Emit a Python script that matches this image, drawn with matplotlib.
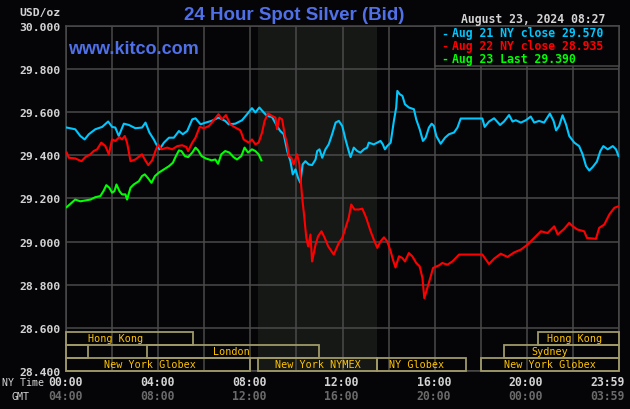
import matplotlib
matplotlib.use('Agg')
import matplotlib.pyplot as plt
from matplotlib.patches import Rectangle
import matplotlib.transforms as mtransforms

# ---------------- data ----------------
aug21_t = [0.03, 0.40, 0.62, 0.81, 0.99, 1.27, 1.57, 1.83, 2.00, 2.14, 2.29, 2.51, 2.73, 3.01, 3.30,
           3.45, 3.62, 3.81, 3.96, 4.06, 4.25, 4.47, 4.68, 4.90, 5.07, 5.26, 5.48, 5.62, 5.84, 6.06,
           6.32, 6.62, 6.91, 7.06, 7.35, 7.64, 7.86, 8.07, 8.22, 8.39, 8.58, 8.73, 8.94, 9.16, 9.30,
           9.45, 9.60, 9.74, 9.84, 9.96, 10.07, 10.17, 10.27, 10.39, 10.53, 10.68, 10.83, 10.90, 11.00,
           11.12, 11.26, 11.40, 11.55, 11.70, 11.84, 11.99, 12.13, 12.27, 12.35, 12.49, 12.64, 12.78,
           12.93, 13.07, 13.14, 13.36, 13.51, 13.65, 13.75, 13.84, 13.94, 14.09, 14.23, 14.33, 14.38,
           14.48, 14.60, 14.71, 14.88, 15.10, 15.20, 15.35, 15.49, 15.61, 15.75, 15.87, 15.97, 16.07,
           16.26, 16.45, 16.62, 16.84, 16.99, 17.13, 17.64, 18.07, 18.17, 18.36, 18.58, 18.84, 19.01,
           19.23, 19.38, 19.52, 19.74, 19.96, 20.17, 20.32, 20.53, 20.75, 21.00, 21.16, 21.27, 21.40,
           21.55, 21.70, 21.84, 22.06, 22.27, 22.42, 22.57, 22.71, 22.86, 23.04, 23.19, 23.32, 23.51,
           23.73, 23.87, 23.98]
aug21_v = [29.529, 29.521, 29.490, 29.474, 29.498, 29.521, 29.532, 29.557, 29.532, 29.529, 29.490,
           29.547, 29.541, 29.526, 29.529, 29.552, 29.506, 29.474, 29.443, 29.428, 29.459, 29.482,
           29.482, 29.513, 29.498, 29.513, 29.567, 29.572, 29.544, 29.552, 29.560, 29.575, 29.560,
           29.544, 29.547, 29.563, 29.591, 29.619, 29.599, 29.622, 29.599, 29.583, 29.578, 29.536,
           29.513, 29.498, 29.420, 29.373, 29.312, 29.335, 29.296, 29.273, 29.358, 29.373, 29.358,
           29.355, 29.381, 29.420, 29.428, 29.389, 29.428, 29.451, 29.498, 29.552, 29.560, 29.536,
           29.474, 29.420, 29.392, 29.436, 29.420, 29.413, 29.428, 29.436, 29.459, 29.451, 29.459,
           29.467, 29.451, 29.428, 29.443, 29.459, 29.560, 29.622, 29.699, 29.684, 29.676, 29.637,
           29.622, 29.614, 29.567, 29.521, 29.467, 29.482, 29.529, 29.547, 29.536, 29.490, 29.454,
           29.482, 29.498, 29.506, 29.529, 29.571, 29.571, 29.571, 29.532, 29.557, 29.572, 29.541,
           29.557, 29.587, 29.557, 29.563, 29.552, 29.563, 29.580, 29.552, 29.560, 29.552, 29.594,
           29.560, 29.516, 29.536, 29.586, 29.544, 29.490, 29.459, 29.443, 29.405, 29.350, 29.330,
           29.346, 29.371, 29.420, 29.443, 29.428, 29.443, 29.428, 29.397]

aug22_t = [0.03, 0.12, 0.40, 0.67, 0.84, 1.06, 1.20, 1.35, 1.53, 1.71, 1.86, 2.00, 2.14, 2.32, 2.43,
           2.55, 2.65, 2.80, 3.01, 3.30, 3.42, 3.57, 3.74, 3.88, 4.00, 4.14, 4.39, 4.61, 4.83, 5.04,
           5.22, 5.30, 5.48, 5.62, 5.80, 5.99, 6.20, 6.33, 6.62, 6.77, 6.94, 7.13, 7.35, 7.57, 7.71,
           7.93, 8.07, 8.22, 8.36, 8.51, 8.62, 8.77, 8.94, 9.09, 9.16, 9.26, 9.38, 9.49, 9.60, 9.67,
           9.78, 9.88, 10.03, 10.13, 10.25, 10.33, 10.43, 10.51, 10.61, 10.68, 10.83, 10.94, 11.09,
           11.23, 11.38, 11.62, 11.84, 11.99, 12.13, 12.27, 12.38, 12.52, 12.71, 12.86, 13.03, 13.22,
           13.36, 13.51, 13.65, 13.80, 13.94, 14.09, 14.19, 14.30, 14.45, 14.60, 14.71, 14.88, 15.03,
           15.20, 15.35, 15.47, 15.55, 15.68, 15.83, 15.93, 16.19, 16.33, 16.55, 16.77, 17.06, 18.07,
           18.36, 18.58, 18.87, 19.16, 19.45, 19.74, 20.03, 20.32, 20.61, 20.90, 21.19, 21.34, 21.62,
           21.84, 21.99, 22.20, 22.49, 22.61, 23.00, 23.14, 23.36, 23.58, 23.80, 23.98]
aug22_v = [29.413, 29.389, 29.386, 29.373, 29.392, 29.405, 29.420, 29.428, 29.459, 29.443, 29.405,
           29.474, 29.467, 29.485, 29.474, 29.490, 29.459, 29.373, 29.381, 29.405, 29.381, 29.355,
           29.377, 29.420, 29.451, 29.428, 29.436, 29.428, 29.443, 29.447, 29.439, 29.420, 29.459,
           29.482, 29.532, 29.526, 29.536, 29.552, 29.591, 29.567, 29.587, 29.544, 29.529, 29.516,
           29.474, 29.459, 29.474, 29.451, 29.459, 29.506, 29.560, 29.594, 29.583, 29.575, 29.521,
           29.575, 29.567, 29.498, 29.451, 29.397, 29.389, 29.358, 29.405, 29.358, 29.203, 29.126,
           29.017, 28.978, 29.033, 28.908, 28.986, 29.025, 29.048, 29.017, 28.978, 28.940, 28.994,
           29.017, 29.064, 29.110, 29.172, 29.149, 29.149, 29.153, 29.110, 29.048, 29.009, 28.971,
           29.001, 29.020, 29.001, 28.955, 28.916, 28.880, 28.932, 28.924, 28.908, 28.947, 28.932,
           28.901, 28.885, 28.831, 28.738, 28.785, 28.839, 28.878, 28.890, 28.901, 28.893, 28.908,
           28.940, 28.940, 28.896, 28.921, 28.944, 28.929, 28.950, 28.963, 28.986, 29.017, 29.048,
           29.040, 29.071, 29.033, 29.059, 29.087, 29.071, 29.056, 29.048, 29.017, 29.013, 29.064,
           29.079, 29.126, 29.157, 29.164]

aug23_t = [0.03, 0.19, 0.40, 0.62, 0.84, 1.06, 1.27, 1.49, 1.64, 1.75, 1.88, 2.00, 2.10, 2.19, 2.32,
           2.43, 2.58, 2.65, 2.80, 2.94, 3.16, 3.30, 3.42, 3.57, 3.71, 3.86, 4.03, 4.25, 4.47, 4.64,
           4.75, 4.90, 5.01, 5.16, 5.30, 5.48, 5.62, 5.74, 5.88, 6.06, 6.32, 6.48, 6.60, 6.74, 6.91,
           7.09, 7.27, 7.42, 7.61, 7.75, 7.90, 8.07, 8.22, 8.36, 8.48]
aug23_v = [29.160, 29.175, 29.195, 29.187, 29.191, 29.195, 29.206, 29.211, 29.237, 29.262, 29.250,
           29.227, 29.234, 29.265, 29.234, 29.219, 29.219, 29.195, 29.250, 29.265, 29.280, 29.304,
           29.312, 29.293, 29.273, 29.304, 29.320, 29.335, 29.350, 29.366, 29.392, 29.423, 29.420,
           29.397, 29.392, 29.413, 29.436, 29.423, 29.397, 29.386, 29.377, 29.381, 29.361, 29.405,
           29.420, 29.413, 29.392, 29.381, 29.397, 29.436, 29.413, 29.428, 29.420, 29.405, 29.377]

y_ticks = [28.4, 28.6, 28.8, 29.0, 29.2, 29.4, 29.6, 29.8, 30.0]
y_labels = ["28.400", "28.600", "28.800", "29.000", "29.200", "29.400", "29.600", "29.800", "30.000"]
x_ticks = [0, 4, 8, 12, 16, 20, 24]
ny_labels = ["00:00", "04:00", "08:00", "12:00", "16:00", "20:00", "23:59"]
gmt_labels = ["04:00", "08:00", "12:00", "16:00", "20:00", "00:00", "03:59"]

legend_texts = ["Aug 21 NY close 29.570", "Aug 22 NY close 28.935", "Aug 23 Last 29.390"]

# sessions: name, start hour, end hour, row (0 = top)
session_names = ["Hong Kong", "Sydney", "London", "New York Globex", "New York NYMEX",
                 "NY Globex", "New York Globex", "Sydney", "Hong Kong"]
session_start = [0.0, 0.0, 3.5, 0.0, 8.33, 13.5, 18.0, 19.0, 20.5]
session_end = [5.5, 0.96, 11.0, 8.0, 13.5, 17.37, 24.0, 24.0, 24.0]
session_row = [0, 1, 1, 2, 2, 2, 2, 1, 0]

# ---------------- style / layout ----------------
BG = '#050508'
SHADE = '#151815'
GRIDC = '#4a4a4a'
CYAN = '#00c8ff'
RED = '#ff0000'
GREEN = '#00ff00'
BLUE = '#5070e8'
LABEL = '#d4d4d4'
GMTC = '#6a6a6a'
SESS_EDGE = '#a09a68'
SESS_TEXT = '#ffc400'
MONO = 'DejaVu Sans Mono'

W, H = 630, 410
L, R, T, B = 66, 619, 27, 372

fig = plt.figure(figsize=(W / 100, H / 100), dpi=100, facecolor=BG)
ax = fig.add_axes([L / W, 1 - B / H, (R - L) / W, (B - T) / H])
ax.set_facecolor(BG)
ax.set_xlim(0, 24)
ax.set_ylim(28.4, 30.0)

# NYMEX shading
ax.axvspan(session_start[4], session_end[4], color=SHADE, zorder=0, lw=0)

ax.set_xticks(range(0, 25, 2))
ax.set_yticks(y_ticks)
ax.grid(True, color=GRIDC, lw=1.1, zorder=1)
ax.tick_params(axis='x', length=0, labelbottom=False)
ax.tick_params(axis='y', length=0, pad=4)
ax.set_yticklabels(y_labels, family=MONO, fontweight='bold', fontsize=8.2, color=LABEL)
for s in ax.spines.values():
    s.set_color(GRIDC)
    s.set_linewidth(1.1)

def px(x, y):
    return x / W, 1 - y / H

# series
ax.plot(aug21_t, aug21_v, color=CYAN, lw=1.5, zorder=3, solid_joinstyle='round')
ax.plot(aug22_t, aug22_v, color=RED, lw=1.5, zorder=3, solid_joinstyle='round')
ax.plot(aug23_t, aug23_v, color=GREEN, lw=1.5, zorder=3, solid_joinstyle='round')

# session boxes
blend = mtransforms.blended_transform_factory(ax.transData, ax.transAxes)
row_h = 13 / (B - T)
label_x = [2.13, None, 7.17, 3.65, 10.91, 15.22, 21.0, 21.0, 22.09]
for name, s0, s1, row, lx in zip(session_names, session_start, session_end, session_row, label_x):
    y0 = (2 - row) * row_h
    ax.add_patch(Rectangle((s0, y0), s1 - s0, row_h, transform=blend, facecolor='none',
                           edgecolor=SESS_EDGE, lw=1.3, zorder=4, clip_on=False))
    if lx is not None:
        ax.text(lx, y0 + row_h / 2, name, transform=blend, ha='center', va='center',
                family=MONO, fontsize=7.3, color=SESS_TEXT, zorder=5)

# legend box
ax.add_patch(Rectangle((16, (B - 66.7) / (B - T)), 8, (66.7 - T) / (B - T), transform=blend,
                       facecolor=BG, edgecolor=GRIDC, lw=1.1, zorder=6, clip_on=False))
leg_colors = [CYAN, RED, GREEN]
leg_y = [34, 46.5, 59]
for txt, c, yy in zip(legend_texts, leg_colors, leg_y):
    fig.text(*px(441, yy), "-", family=MONO, fontweight='bold', fontsize=8.3, color=c,
             ha='left', va='center', zorder=7)
    fig.text(*px(451.5, yy), txt, family=MONO, fontweight='bold', fontsize=8.3, color=c,
             ha='left', va='center', zorder=7)

# x labels
for t, nl, gl in zip(x_ticks, ny_labels, gmt_labels):
    if t == 24:
        ax.text(24.25, -(382.7 - B) / (B - T), nl, transform=blend, ha='right', va='center',
                family=MONO, fontweight='bold', fontsize=8.3, color=LABEL, clip_on=False)
        ax.text(24.25, -(396.7 - B) / (B - T), gl, transform=blend, ha='right', va='center',
                family=MONO, fontweight='bold', fontsize=8.3, color=GMTC, clip_on=False)
    else:
        ax.text(t - 0.04, -(382.7 - B) / (B - T), nl, transform=blend, ha='center', va='center',
                family=MONO, fontweight='bold', fontsize=8.3, color=LABEL, clip_on=False)
        ax.text(t - 0.04, -(396.7 - B) / (B - T), gl, transform=blend, ha='center', va='center',
                family=MONO, fontweight='bold', fontsize=8.3, color=GMTC, clip_on=False)

fig.text(*px(2.5, 383), "NY Time", family=MONO, fontsize=7.2, color=LABEL, ha='left', va='center')
fig.text(*px(11, 397), "GMT", family=MONO, fontsize=7.2, color=LABEL, ha='left', va='center')

# headers
fig.text(*px(61, 13), "USD/oz", family=MONO, fontweight='bold', fontsize=8.2, color=LABEL,
         ha='right', va='center')
fig.text(*px(294, 15), "24 Hour Spot Silver (Bid)", family='Liberation Sans', fontweight='bold',
         fontsize=13.5, color=BLUE, ha='center', va='center')
fig.text(*px(68, 50), "www.kitco.com", family='Liberation Sans', fontweight='bold',
         fontsize=13, color=BLUE, ha='left', va='center', zorder=7)
fig.text(*px(461.5, 20), "August 23, 2024 08:27", family=MONO, fontweight='bold', fontsize=8.3,
         color=LABEL, ha='left', va='center')

fig.savefig('out.png', dpi=100, facecolor=BG)
